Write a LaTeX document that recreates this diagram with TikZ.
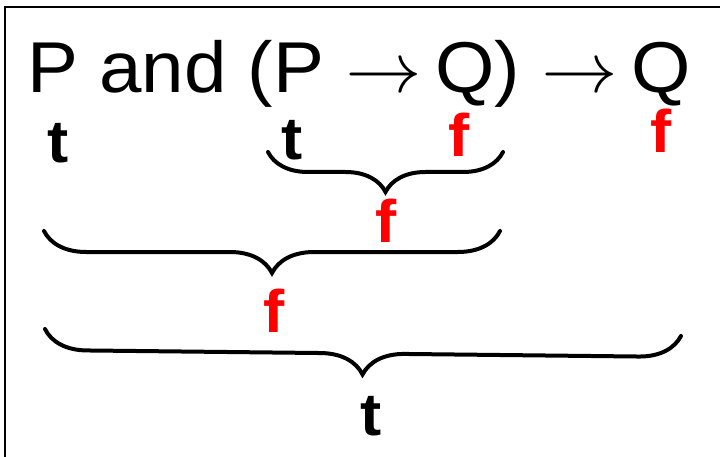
\documentclass[tikz,border=0pt]{standalone}
\usepackage{fontspec}
\usepackage{unicode-math}
\setmainfont{Liberation Sans}[FakeStretch=1.06]
\setmathfont{Latin Modern Math}[FakeStretch=1.06]
\usetikzlibrary{decorations.pathreplacing,positioning}

\begin{document}
\begin{tikzpicture}[x=1pt, y=-1pt,
        formula/.style={anchor=base west, inner sep=0pt, font=\fontsize{72}{80}\selectfont},
        truth/.style={anchor=base, inner sep=0pt, font=\fontsize{60}{66}\selectfont\bfseries},
        tval/.style={truth, text=black},
        fval/.style={truth, text=red},
        bracket/.style={decorate, decoration={brace, mirror, amplitude=#1}, line width=4pt, line cap=round},
        frame/.style={draw=black, line width=2pt}
    ]
    \useasboundingbox (0,0) rectangle (720,457);

    % Frame (runs off the right and bottom edges)
    \draw[frame] (5,7) rectangle (760,500);

    % === Formula ===
    \node[formula] (expr) at (27,93) {P and (P $\rightarrow$\hspace{-3pt} Q) $\rightarrow$\hspace{-3pt} Q};

    % === Values under the atoms ===
    \node[tval] (p1) at (58,163) {t};
    \node[tval] (p2) at (292,160) {t};
    \node[fval] (q1) at (459,157) {f};
    \node[fval] (q2) at (661,153) {f};

    % === Brace ends ===
    \coordinate (imp-l) at (268,152);
    \coordinate (imp-r) at (503,152);
    \coordinate (and-l) at (44,231);
    \coordinate (and-r) at (500,231);
    \coordinate (all-l) at (45,329);
    \coordinate (all-r) at (681,336);

    % Braces and their values
    \draw[bracket=40pt] (imp-l) -- (imp-r);
    \node[fval] (impval) at (386,243) {f};

    \draw[bracket=42pt] (and-l) -- (and-r);
    \node[fval] (andval) at (274,332) {f};

    \draw[bracket=42pt] (all-l) -- (all-r);
    \node[tval] (allval) at (371,435) {t};

\end{tikzpicture}
\end{document}
